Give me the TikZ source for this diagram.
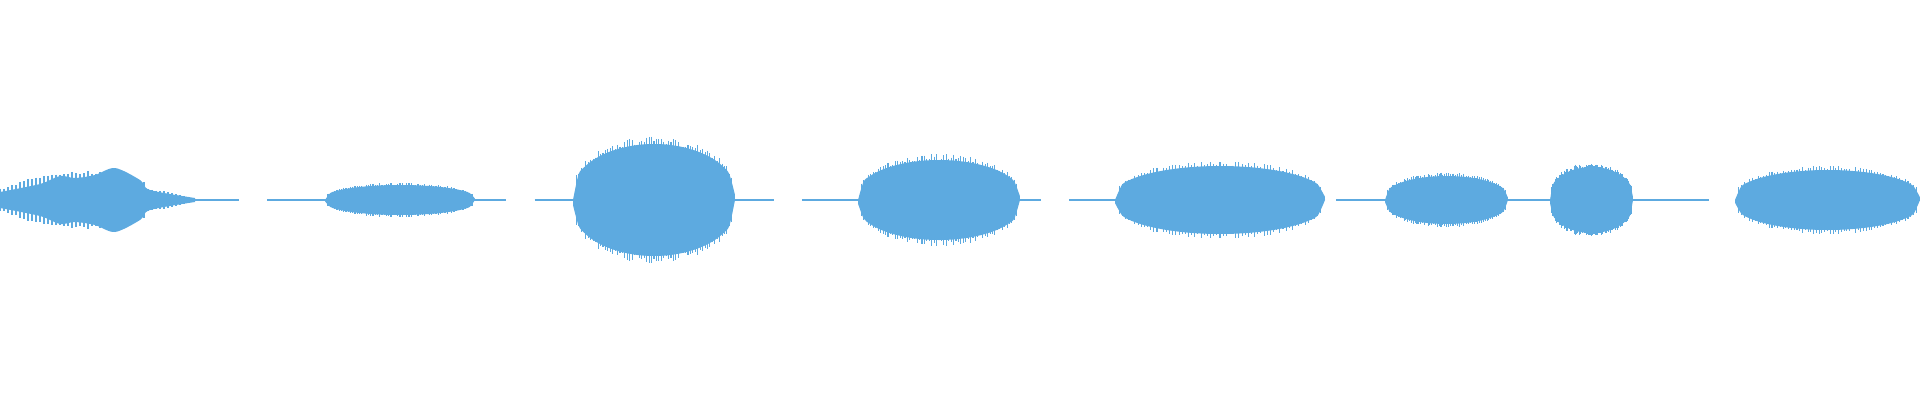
\documentclass[tikz,border=0pt]{standalone}
\definecolor{wavec}{HTML}{5DAAE0}
\tikzset{
  wave/.style={fill=wavec, draw=none},
  spike/.style={draw=wavec, line width=0.3pt},
  base/.style={draw=wavec, line width=0.3pt, dash pattern=on 30pt off 8pt}
}
\newcommand{\waveblob}[3]{%
  \fill[wave] plot[smooth, domain=0:1, samples=30] ({#1+(#2-#1)*\x},{200-#3*abs(sin(180*\x))^0.35})
    -- plot[smooth, domain=1:0, samples=30] ({#1+(#2-#1)*\x},{200+#3*abs(sin(180*\x))^0.35}) -- cycle;
  \foreach \t in {0.02,0.035,...,0.98}{
    \pgfmathsetmacro{\env}{#3*abs(sin(180*\t))^0.35*(1.0+0.15*rnd)}
    \draw[spike] ({#1+(#2-#1)*\t},{200-\env}) -- ({#1+(#2-#1)*\t},{200+\env});
  }%
}
\begin{document}
\begin{tikzpicture}[x=0.01cm, y=-0.01cm]
\pgfmathsetseed{7}
\useasboundingbox (0,0) rectangle (1920,400);
\coordinate (start) at (0,200);
\coordinate (stop) at (1920,200);
\draw[base] (start) -- (stop);
% segments
\fill[wave] plot[smooth] coordinates {(0,192) (40,184) (60,176) (75,178) (95,175) (115,168) (140,180) (150,190) (195,198)}
  -- plot[smooth] coordinates {(195,202) (150,210) (140,220) (115,232) (95,225) (75,222) (60,224) (40,216) (0,208)} -- cycle;
\foreach \t in {0,4,...,190}{
  \pgfmathsetmacro{\env}{(\t<145 ? 10+16*sin(\t*1.1) : 9*(195-\t)/50+2)*(1+0.15*rnd)}
  \draw[spike] (\t,{200-\env}) -- (\t,{200+\env});
}
\waveblob{325}{475}{15}
\waveblob{573}{735}{56}
\waveblob{858}{1020}{40}
\waveblob{1115}{1325}{34}
\waveblob{1385}{1508}{24}
\waveblob{1550}{1633}{33}
\waveblob{1735}{1920}{30}
\end{tikzpicture}
\end{document}
